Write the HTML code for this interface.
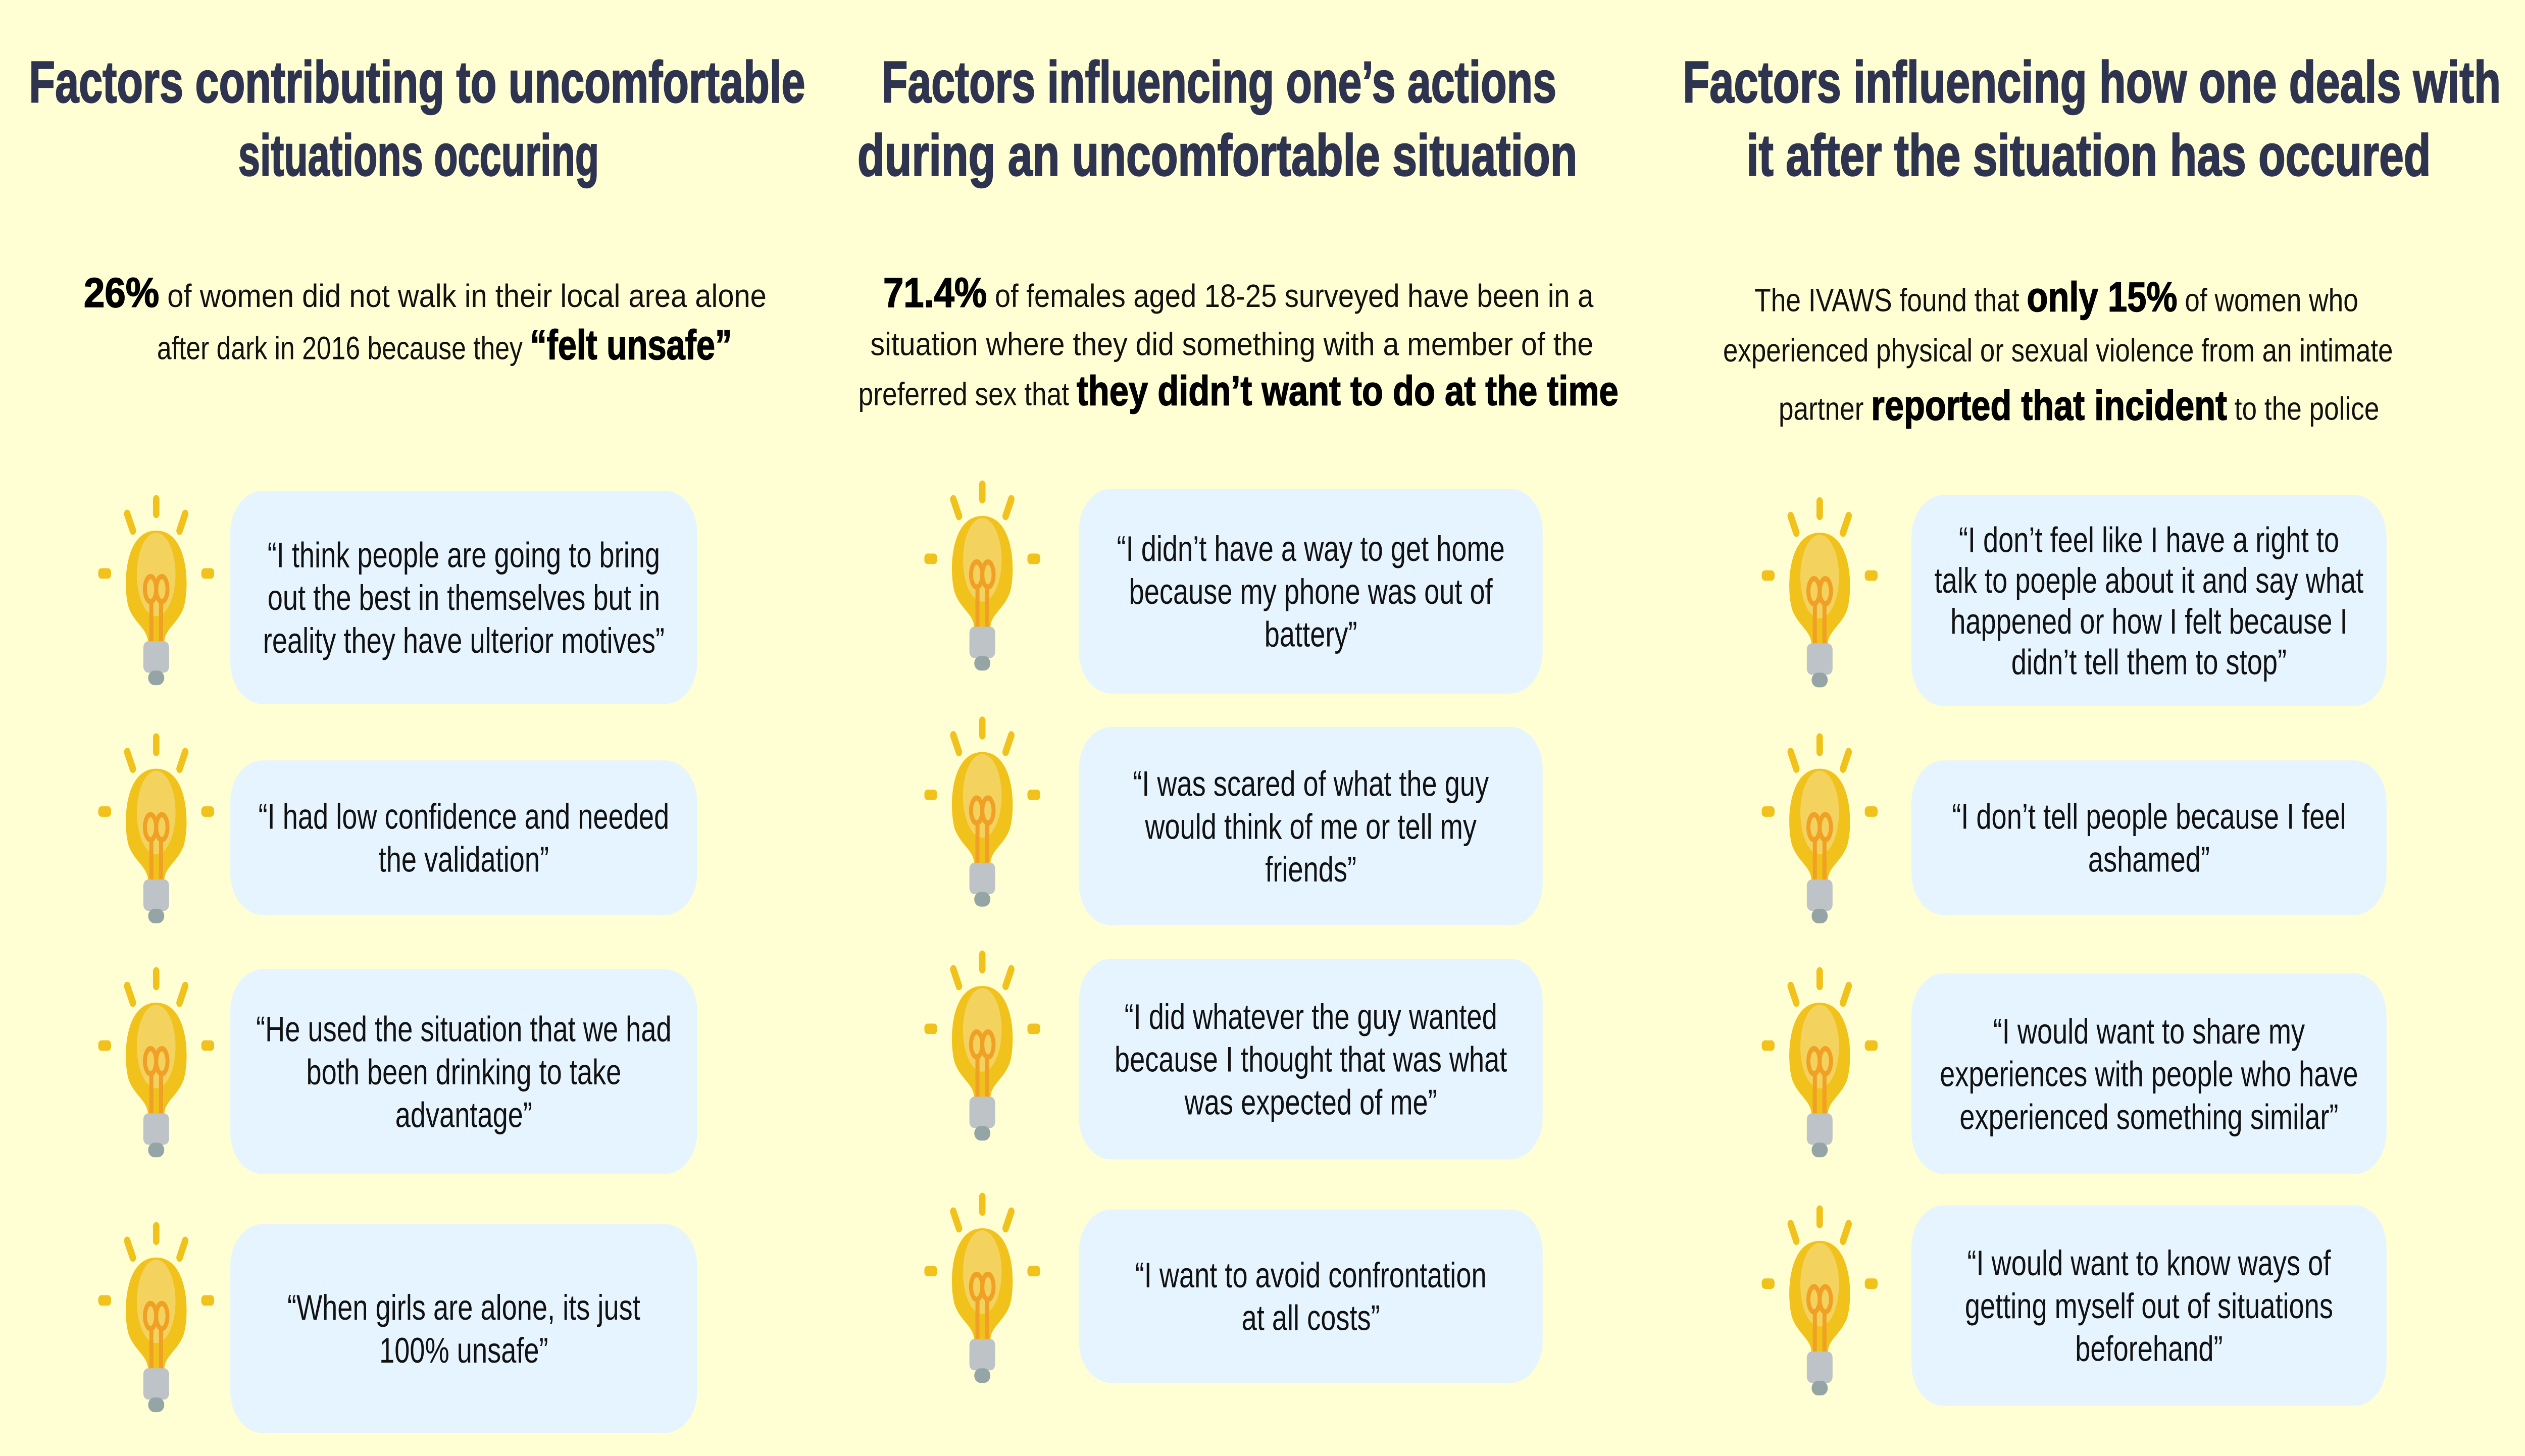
<!DOCTYPE html>
<html><head><meta charset="utf-8">
<style>
html,body{margin:0;padding:0;background:#ffffd3;overflow:hidden;width:100%;height:100%;}
svg{display:block;width:100vw;height:100vh;}
.title{font-family:"Liberation Sans",sans-serif;font-weight:bold;font-size:28px;fill:#2e3450;stroke:#2e3450;stroke-width:0.6px;}
.stat{font-family:"Liberation Sans",sans-serif;font-size:15.5px;fill:#111;}
.statb{font-weight:bold;font-size:20px;fill:#000;stroke:#000;stroke-width:0.4px;}
.q{font-family:"Liberation Sans",sans-serif;font-size:17px;fill:#111;}
</style></head>
<body>
<svg id="root" viewBox="0 0 1568 697" preserveAspectRatio="none" xmlns="http://www.w3.org/2000/svg">
<defs>
<symbol id="bulb" viewBox="0 0 72 95">
<rect x="34" y="0" width="4" height="11" rx="2" fill="#f1c21b"/>
<line x1="18" y1="9" x2="21.5" y2="17" stroke="#f1c21b" stroke-width="4" stroke-linecap="round"/>
<line x1="54" y1="9" x2="50.5" y2="17" stroke="#f1c21b" stroke-width="4" stroke-linecap="round"/>
<rect x="0" y="35" width="8" height="5" rx="2" fill="#f1c21b"/>
<rect x="64" y="35" width="8" height="5" rx="2" fill="#f1c21b"/>
<path d="M36 17 C 16 17 15 44 19 54 C 23 62 31 64 31 71 L41 71 C41 64 49 62 53 54 C 57 44 56 17 36 17Z" fill="#f1c21b"/>
<ellipse cx="36" cy="38" rx="12" ry="20" fill="#f3d35e"/>
<path d="M33 71 V50 M39 71 V50" stroke="#f0a024" stroke-width="2.5"/>
<ellipse cx="32.5" cy="45" rx="3.5" ry="6" fill="none" stroke="#f0a024" stroke-width="2.5"/>
<ellipse cx="39.5" cy="45" rx="3.5" ry="6" fill="none" stroke="#f0a024" stroke-width="2.5"/>
<rect x="28" y="70" width="16" height="15" rx="3" fill="#bdc3c7"/>
<rect x="31" y="84" width="10" height="7" rx="4" fill="#95a5a6"/>
</symbol>
</defs>
<rect x="0" y="0" width="1568" height="697" fill="#ffffd3"/>

<g class="title" text-anchor="middle">
<text x="259" y="49" textLength="482" lengthAdjust="spacingAndGlyphs">Factors contributing to uncomfortable</text>
<text x="260" y="84" textLength="224" lengthAdjust="spacingAndGlyphs">situations occuring</text>
</g>
<g class="title" text-anchor="middle">
<text x="757" y="49" textLength="419" lengthAdjust="spacingAndGlyphs">Factors influencing one’s actions</text>
<text x="756" y="84" textLength="447" lengthAdjust="spacingAndGlyphs">during an uncomfortable situation</text>
</g>
<g class="title" text-anchor="middle">
<text x="1299" y="49" textLength="508" lengthAdjust="spacingAndGlyphs">Factors influencing how one deals with</text>
<text x="1297" y="84" textLength="425" lengthAdjust="spacingAndGlyphs">it after the situation has occured</text>
</g>

<g class="stat" text-anchor="middle">
<text x="264" y="147" textLength="424" lengthAdjust="spacingAndGlyphs"><tspan class="statb">26%</tspan> of women did not walk in their local area alone</text>
<text x="276" y="172" textLength="357" lengthAdjust="spacingAndGlyphs">after dark in 2016 because they <tspan class="statb">“felt unsafe”</tspan></text>
</g>
<g class="stat" text-anchor="middle">
<text x="769" y="147" textLength="441" lengthAdjust="spacingAndGlyphs"><tspan class="statb">71.4%</tspan> of females aged 18-25 surveyed have been in a</text>
<text x="765" y="170" textLength="449" lengthAdjust="spacingAndGlyphs">situation where they did something with a member of the</text>
<text x="769" y="194" textLength="472" lengthAdjust="spacingAndGlyphs">preferred sex that <tspan class="statb">they didn’t want to do at the time</tspan></text>
</g>
<g class="stat" text-anchor="middle">
<text x="1277" y="149" textLength="375" lengthAdjust="spacingAndGlyphs">The IVAWS found that <tspan class="statb">only 15%</tspan> of women who</text>
<text x="1278" y="173" textLength="416" lengthAdjust="spacingAndGlyphs">experienced physical or sexual violence from an intimate</text>
<text x="1291" y="201" textLength="373" lengthAdjust="spacingAndGlyphs">partner <tspan class="statb">reported that incident</tspan> to the police</text>
</g>

<g id="cards"></g>
</svg>
<script>
const NS = "http://www.w3.org/2000/svg";
const cardsG = document.getElementById('cards');
const cardX = [143, 670, 1187];
const cardW = [290, 288, 295];
const bulbX = [61, 574, 1094];
const cards = [
 [235,102,["“I think people are going to bring","out the best in themselves but in","reality they have ulterior motives”"],0,237],
 [364,74,["“I had low confidence and needed","the validation”"],0,351],
 [464,98,["“He used the situation that we had","both been drinking to take","advantage”"],0,463],
 [586,100,["“When girls are alone, its just","100% unsafe”"],0,585],
 [234,98,["“I didn’t have a way to get home","because my phone was out of","battery”"],1,230],
 [348,95,["“I was scared of what the guy","would think of me or tell my","friends”"],1,343],
 [459,96,["“I did whatever the guy wanted","because I thought that was what","was expected of me”"],1,455],
 [579,83,["“I want to avoid confrontation","at all costs”"],1,571],
 [237,101,["“I don’t feel like I have a right to","talk to poeple about it and say what","happened or how I felt because I","didn’t tell them to stop”"],2,238],
 [364,74,["“I don’t tell people because I feel","ashamed”"],2,351],
 [466,96,["“I would want to share my","experiences with people who have","experienced something similar”"],2,463],
 [577,96,["“I would want to know ways of","getting myself out of situations","beforehand”"],2,577]
];
cards.forEach(c => {
  const [top,h,lines,col,btop] = c;
  const u = document.createElementNS(NS,'use');
  
  
  u.setAttribute('href','#bulb');
  u.setAttribute('x',bulbX[col]); u.setAttribute('y',btop);
  u.setAttribute('width',72); u.setAttribute('height',95);
  cardsG.appendChild(u);
  const r = document.createElementNS(NS,'rect');
  
  
  r.setAttribute('x',cardX[col]); r.setAttribute('y',top);
  r.setAttribute('width',cardW[col]); r.setAttribute('height',h);
  r.setAttribute('rx',20); r.setAttribute('fill','#e6f4ff');
  cardsG.appendChild(r);
  const cx = cardX[col] + cardW[col]/2, cy = top + h/2;
  const lh = lines.length > 3 ? 19.5 : 20.5;
  lines.forEach((ln,i) => {
    const t = document.createElementNS(NS,'text');
    
    
    t.setAttribute('class','q');
    t.setAttribute('text-anchor','middle');
    t.setAttribute('x',cx);
    t.setAttribute('y',cy + (i-(lines.length-1)/2)*lh + 6);
    if (lines.length > 3) t.setAttribute('font-size','16');
    t.textContent = ln;
    cardsG.appendChild(t);
  });
});
</script>
</body></html>
